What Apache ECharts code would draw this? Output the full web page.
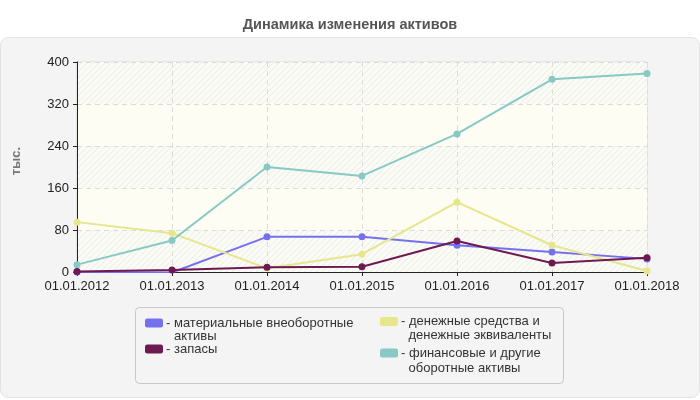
<!DOCTYPE html>
<html><head><meta charset="utf-8">
<script src="https://cdn.jsdelivr.net/npm/echarts@6/dist/echarts.min.js"></script>
<style>html,body{margin:0;padding:0;background:#fff}#c{width:700px;height:400px}</style>
</head><body><div id="c"></div>
<script>
var categories = ['01.01.2012','01.01.2013','01.01.2014','01.01.2015','01.01.2016','01.01.2017','01.01.2018'];
var yTicks = [0, 80, 160, 240, 320, 400];
var seriesNames = ['материальные внеоборотные активы','запасы','денежные средства и денежные эквиваленты','финансовые и другие оборотные активы'];
var legendFirstLines = ['- материальные внеоборотные','- запасы','- денежные средства и','- финансовые и другие'];
var legendSecondLines = ['активы','','денежные эквиваленты','оборотные активы'];
var material = [0, -1, 67, 67, 51, 38, 25];
var stocks = [1, 4, 9, 10, 59, 17, 27];
var cash = [95, 74, 7, 34, 133, 51, 2];
var financial = [14, 60, 200, 183, 263, 367, 378];
var colors = ['#7570ee', '#6e1a52', '#e6e68c', '#88c8c5'];

// hatch pattern
var pc = document.createElement('canvas');
pc.width = 6; pc.height = 6;
var g = pc.getContext('2d');
g.fillStyle = '#fbfbf6'; g.fillRect(0,0,6,6);
g.strokeStyle = '#ebebe8'; g.lineWidth = 1;
g.beginPath(); g.moveTo(0,6); g.lineTo(6,0); g.moveTo(-1,1); g.lineTo(1,-1); g.moveTo(5,7); g.lineTo(7,5); g.stroke();
var hatch = {image: pc, repeat: 'repeat'};

var chart = echarts.init(document.getElementById('c'));
var datas = [material, stocks, cash, financial];
var series = datas.map(function(d, i){
  return {name: seriesNames[i], type: 'line', data: d, symbol: 'circle', symbolSize: 7,
    lineStyle: {width: 2, color: colors[i]}, itemStyle: {color: colors[i]}, z: 3 + (i===1?1:0)};
});
var font = 'Liberation Sans, Arial';
// legend placement (layout only)
var legendPos = [[145, 316], [145, 342], [380, 314.5], [380, 346]];
var secondLinePos = [[174, 336], null, [408.5, 335.5], [408.5, 368]];
var legends = seriesNames.map(function(n, i){
  return {data: [n], left: legendPos[i][0], top: legendPos[i][1], padding: 0,
    itemWidth: 18, itemHeight: 9, icon: 'roundRect', selectedMode: false,
    formatter: function(){ return legendFirstLines[i]; },
    textStyle: {fontFamily: font, fontSize: 13, color: '#333', lineHeight: 14, padding: [0,0,0,-2]}};
});
var graphics = [
  {type: 'rect', z: -10, shape: {x: 0.5, y: 37.5, width: 699, height: 360, r: 8},
    style: {fill: '#f4f4f4', stroke: '#e2e2e2', lineWidth: 1}},
  {type: 'rect', z: -5, shape: {x: 135.5, y: 307.5, width: 428, height: 76, r: 4},
    style: {fill: '#f4f4f4', stroke: '#c8c8c8', lineWidth: 1}},
  {type: 'text', left: 10, top: 147, rotation: Math.PI/2,
    style: {text: 'тыс.', fill: '#777', font: 'bold 13px Liberation Sans, Arial'}}
];
legendSecondLines.forEach(function(t, i){
  if (!t) return;
  graphics.push({type: 'text', x: secondLinePos[i][0], y: secondLinePos[i][1],
    style: {text: t, fill: '#333', font: '13px Liberation Sans, Arial', verticalAlign: 'middle'}});
});
chart.setOption({
  animation: false,
  title: {text: 'Динамика изменения активов', left: 'center', top: 12,
    textStyle: {fontFamily: font, fontSize: 14.5, fontWeight: 'bold', color: '#555'}},
  graphic: graphics,
  legend: legends,
  grid: {left: 77, right: 53, top: 62, bottom: 128, show: true, borderColor: '#dcdcdc', borderWidth: 1, backgroundColor: 'transparent'},
  xAxis: {type: 'category', data: categories, boundaryGap: false,
    axisLine: {lineStyle: {color: '#222'}}, axisTick: {show: true, length: 4, lineStyle: {color: '#222'}},
    axisLabel: {color: '#222', fontSize: 13, fontFamily: font, margin: 8},
    splitLine: {show: true, lineStyle: {color: '#dcdcdc', type: [5, 4]}}},
  yAxis: {type: 'value', min: 0, max: 400, interval: 80,
    axisLine: {show: true, lineStyle: {color: '#222'}}, axisTick: {show: true, length: 4, lineStyle: {color: '#222'}},
    axisLabel: {color: '#222', fontSize: 13, fontFamily: font, margin: 8,
      formatter: function(v){ return yTicks.indexOf(v) >= 0 ? String(v) : ''; }},
    splitLine: {show: true, lineStyle: {color: '#dcdcdc', type: [5, 4]}},
    splitArea: {show: true, areaStyle: {color: [hatch, '#fdfdf4']}}},
  series: series
});
</script></body></html>
